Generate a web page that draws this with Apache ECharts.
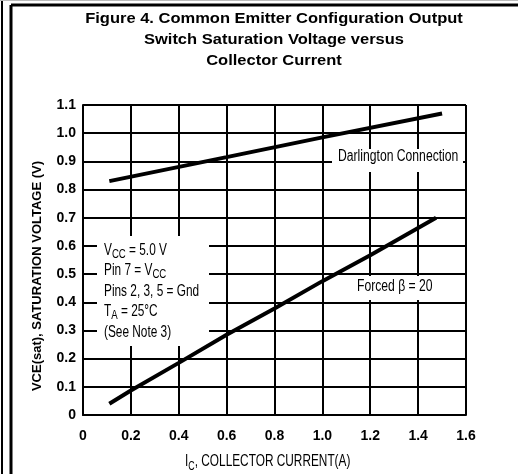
<!DOCTYPE html>
<html>
<head>
<meta charset="utf-8">
<script src="https://cdn.jsdelivr.net/npm/echarts@6/dist/echarts.min.js"></script>
<style>
  html, body { margin: 0; padding: 0; background: #fff; }
  #chart { width: 518px; height: 474px; }
</style>
</head>
<body>
<div id="chart"></div>
<script>
// data
var darlingtonIc = [0.11, 0.6, 1.0, 1.5];
var darlingtonV = [0.83, 0.915, 0.985, 1.07];
var forcedIc = [0.11, 0.2, 0.4, 0.6, 0.8, 1.0, 1.2, 1.475];
var forcedV = [0.04, 0.087, 0.185, 0.285, 0.378, 0.475, 0.567, 0.70];

var SANS = '"Liberation Sans", Arial, sans-serif';

function pairs(xs, ys) {
    var out = [];
    for (var i = 0; i < xs.length; i++) {
        out.push([xs[i], ys[i]]);
    }
    return out;
}

var myChart = echarts.init(document.getElementById('chart'));
var option = {
    backgroundColor: '#fff',
    animation: false,
    grid: { left: 83, right: 52, top: 105, bottom: 59 },
    xAxis: {
        type: 'value',
        min: 0, max: 1.6, interval: 0.2,
        axisLine: { show: true, lineStyle: { color: '#000', width: 2 } },
        axisTick: { show: false },
        axisLabel: {
            margin: 14, color: '#000', fontFamily: SANS, fontSize: 14, fontWeight: 'bold',
            formatter: function (v) { return v === 0 ? '0' : v.toFixed(1); }
        },
        splitLine: { show: true, lineStyle: { color: '#000', width: 2 } }
    },
    yAxis: {
        type: 'value',
        min: 0, max: 1.1, interval: 0.1,
        axisLine: { show: true, lineStyle: { color: '#000', width: 2 } },
        axisTick: { show: false },
        axisLabel: {
            margin: 7, color: '#000', fontFamily: SANS, fontSize: 14, fontWeight: 'bold',
            formatter: function (v) { return v === 0 ? '0' : v.toFixed(1); }
        },
        splitLine: { show: true, lineStyle: { color: '#000', width: 2 } }
    },
    series: [
        {
            name: 'Darlington Connection',
            type: 'line',
            symbol: 'none',
            z: 5,
            lineStyle: { color: '#000', width: 4 },
            data: pairs(darlingtonIc, darlingtonV)
        },
        {
            name: 'Forced β = 20',
            type: 'line',
            symbol: 'none',
            z: 5,
            lineStyle: { color: '#000', width: 4 },
            data: pairs(forcedIc, forcedV)
        }
    ],
    graphic: [
        // frame
        { type: 'line', z: 10, shape: { x1: 2, y1: 0, x2: 2, y2: 474 }, style: { stroke: '#000', lineWidth: 2 } },
        { type: 'line', z: 10, shape: { x1: 11, y1: 5, x2: 11, y2: 474 }, style: { stroke: '#000', lineWidth: 3 } },
        { type: 'line', z: 10, shape: { x1: 11, y1: 5, x2: 518, y2: 5 }, style: { stroke: '#000', lineWidth: 3 } },
        { type: 'line', z: 10, shape: { x1: 0, y1: 0.5, x2: 518, y2: 0.5 }, style: { stroke: '#bbb', lineWidth: 1 } },
        // title
        {
            type: 'text', z: 10, x: 274, y: 8, scaleX: 1.1,
            style: {
                text: 'Figure 4. Common Emitter Configuration Output\nSwitch Saturation Voltage versus\nCollector Current',
                fill: '#000', fontFamily: SANS, fontSize: 15, fontWeight: 'bold',
                lineHeight: 21, align: 'center', verticalAlign: 'top'
            }
        },
        // axis names
        {
            type: 'text', z: 10, x: 37, y: 276, rotation: Math.PI / 2,
            style: {
                text: 'VCE(sat), SATURATION VOLTAGE (V)',
                fill: '#000', fontFamily: SANS, fontSize: 13, fontWeight: 'bold',
                align: 'center', verticalAlign: 'middle'
            }
        },
        {
            type: 'text', z: 10, x: 185, y: 462, scaleX: 0.74,
            style: {
                text: '{n|I}{s|C}{n|, COLLECTOR CURRENT(A)}',
                verticalAlign: 'middle',
                rich: {
                    n: { fontFamily: SANS, fontSize: 16, fill: '#000' },
                    s: { fontFamily: SANS, fontSize: 12, fill: '#000', padding: [9, 0, 0, 0] }
                }
            }
        },
        // white boxes behind the notes
        { type: 'rect', z: 1, shape: { x: 97, y: 236, width: 112, height: 110 }, style: { fill: '#fff' } },
        { type: 'rect', z: 1, shape: { x: 332, y: 149, width: 131, height: 23 }, style: { fill: '#fff' } },
        { type: 'rect', z: 1, shape: { x: 345, y: 276, width: 110, height: 24 }, style: { fill: '#fff' } },
        {
            type: 'text', z: 3, x: 104, y: 240, scaleX: 0.74,
            style: {
                text: '{n|V}{s|CC}{n| = 5.0 V}\n{n|Pin 7 = V}{s|CC}\n{n|Pins 2, 3, 5 = Gnd}\n{n|T}{s|A}{n| = 25°C}\n{n|(See Note 3)}',
                fill: '#000',
                rich: {
                    n: { fontFamily: SANS, fontSize: 16, fill: '#000', lineHeight: 20.5 },
                    s: { fontFamily: SANS, fontSize: 13, fill: '#000', lineHeight: 20.5, padding: [8, 0, 0, 0] }
                }
            }
        },
        {
            type: 'text', z: 3, x: 338, y: 149, scaleX: 0.76,
            style: { text: 'Darlington Connection', fill: '#000', fontFamily: SANS, fontSize: 16 }
        },
        {
            type: 'text', z: 3, x: 357, y: 279, scaleX: 0.76,
            style: { text: 'Forced β = 20', fill: '#000', fontFamily: SANS, fontSize: 16 }
        }
    ]
};
myChart.setOption(option);
window.onresize = myChart.resize;
</script>
</body>
</html>
